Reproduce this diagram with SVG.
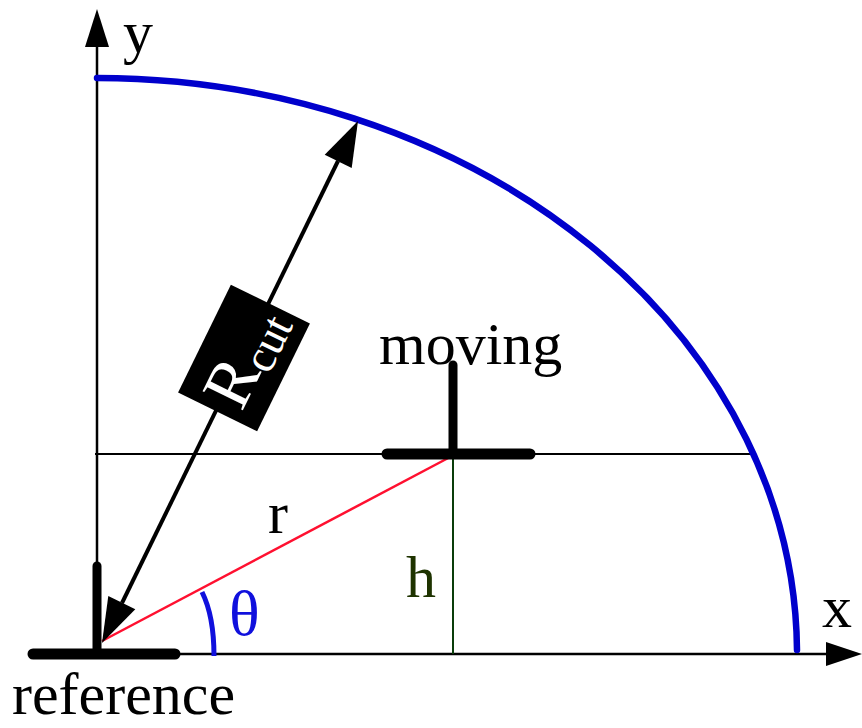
<svg xmlns="http://www.w3.org/2000/svg" width="862" height="728" viewBox="0 0 862 728">
<style>
text{font-family:"Liberation Serif","Times New Roman",serif;}
.lbl{font-size:60px;fill:#000;}
.thin{stroke:#000;stroke-width:2.5;fill:none;}
.bar{stroke:#000;stroke-linecap:round;fill:none;}
</style>
<rect width="862" height="728" fill="#fff"/>
<g id="connectors">
  <g id="y-axis">
    <line x1="97" y1="654" x2="97" y2="44" class="thin"/>
    <polygon points="97,9 85,47 109,47" fill="#000"/>
  </g>
  <g id="x-axis">
    <line x1="97" y1="654" x2="830" y2="654" class="thin"/>
    <polygon points="862,654 826,642 826,666" fill="#000"/>
  </g>
  <line id="hline" x1="95" y1="454" x2="752" y2="454" stroke="#000" stroke-width="2"/>
  <path id="cutoff" d="M97,78 A701,576 0 0 1 797,650" fill="none" stroke="#0000cc" stroke-width="6.5" stroke-linecap="round"/>
  <line id="h-line" x1="453" y1="456" x2="453" y2="654" stroke="#0a3d0a" stroke-width="2"/>
  <line id="r-line" x1="102" y1="641" x2="452" y2="456" stroke="#ff1030" stroke-width="2.5"/>
  <path id="theta-arc" d="M202,592 Q214,616 214,656" fill="none" stroke="#1010dd" stroke-width="5"/>
  <g id="rcut-arrow">
    <line x1="338" y1="161" x2="122" y2="603" stroke="#000" stroke-width="4"/>
    <polygon points="358,121 351.7,168 324.7,154.8" fill="#000"/>
    <polygon points="102,643 135.3,609.2 108.3,596" fill="#000"/>
  </g>
</g>
<g id="reference">
  <line x1="97" y1="566" x2="97" y2="654" class="bar" stroke-width="9"/>
  <line x1="33" y1="654" x2="175" y2="654" class="bar" stroke-width="11"/>
  <text x="12" y="714" class="lbl">reference</text>
</g>
<g id="moving">
  <line x1="453" y1="365" x2="453" y2="454" class="bar" stroke-width="9"/>
  <line x1="387" y1="454" x2="530" y2="454" class="bar" stroke-width="11"/>
  <text x="379" y="364" class="lbl">moving</text>
</g>
<g id="rcut-label" transform="translate(244,358) rotate(-63.9)">
  <rect x="-60" y="-44" width="120" height="88" fill="#000"/>
  <text x="-50" y="22" font-size="68" fill="#fff">R<tspan font-size="46" dy="8">cut</tspan></text>
</g>
<g id="labels">
  <text x="123" y="52" class="lbl">y</text>
  <text x="822" y="627" class="lbl">x</text>
  <text x="268" y="533" class="lbl">r</text>
  <text x="406" y="597" class="lbl" style="fill:#1e3300">h</text>
  <text x="229" y="635" class="lbl" style="fill:#1010dd;font-size:64px">θ</text>
</g>
</svg>
